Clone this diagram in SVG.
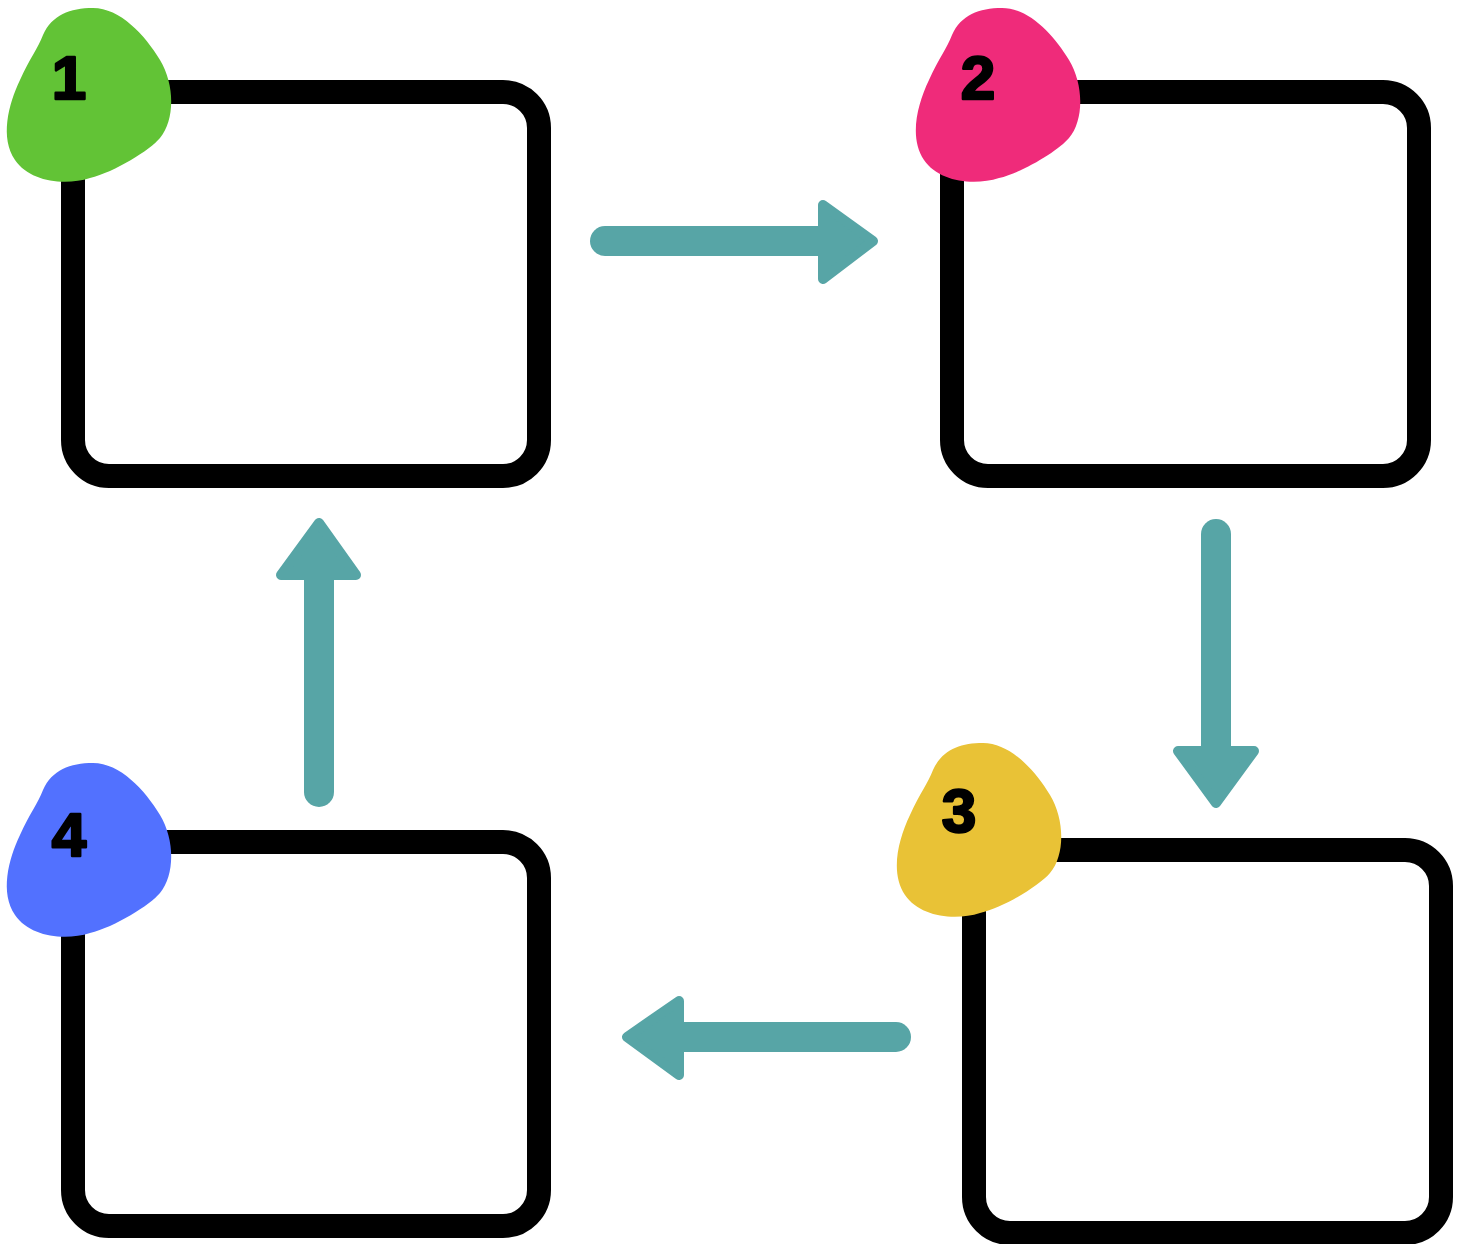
<svg xmlns="http://www.w3.org/2000/svg" width="1464" height="1244" viewBox="0 0 1464 1244">
<defs>
<style>
.box{fill:#fff;stroke:#000;stroke-width:24}
.shaft{stroke:#57a5a6;stroke-width:30;stroke-linecap:round;fill:none}
.head{fill:#57a5a6;stroke:#57a5a6;stroke-width:10;stroke-linejoin:round}
.num{font-family:"Liberation Sans","DejaVu Sans",sans-serif;font-weight:bold;font-size:62px;fill:#000;stroke:#000;stroke-width:2.5;stroke-linejoin:round;text-anchor:middle}
</style>
<path id="blob" d="M93,8 C120,8 145,35 160,60 C175,85 175,120 160,138 C150,150 115,172 90,178 C65,186 30,182 15,160 C0,138 8,105 20,80 C30,58 38,48 43,35 C52,15 70,8 93,8 Z"/>
</defs>
<rect width="1464" height="1244" fill="#fff"/>
<g id="connectors">
<line class="shaft" x1="605" y1="241" x2="825" y2="241"/>
<polygon class="head" points="823,205 873,241 823,279"/>
<line class="shaft" x1="1216" y1="534" x2="1216" y2="755"/>
<polygon class="head" points="1178,751 1254,751 1216,803"/>
<line class="shaft" x1="896" y1="1037" x2="678" y2="1037"/>
<polygon class="head" points="679,1001 627,1037 679,1075"/>
<line class="shaft" x1="319" y1="792" x2="319" y2="575"/>
<polygon class="head" points="281,575 356,575 319,523"/>
</g>
<g id="node1">
<rect class="box" x="73" y="92" width="466" height="384" rx="36"/>
<use href="#blob" fill="#62c336"/>
<text class="num" x="69" y="99">1</text>
</g>
<g id="node2">
<rect class="box" x="952" y="92" width="467" height="384" rx="36"/>
<use href="#blob" transform="translate(909,0)" fill="#ef2b7a"/>
<text class="num" x="978" y="99">2</text>
</g>
<g id="node3">
<rect class="box" x="974" y="850" width="467" height="383" rx="36"/>
<use href="#blob" transform="translate(890,735)" fill="#e9c236"/>
<text class="num" x="959" y="832">3</text>
</g>
<g id="node4">
<rect class="box" x="73" y="842" width="466" height="384" rx="36"/>
<use href="#blob" transform="translate(0,755)" fill="#5271ff"/>
<text class="num" x="69" y="856">4</text>
</g>
</svg>
